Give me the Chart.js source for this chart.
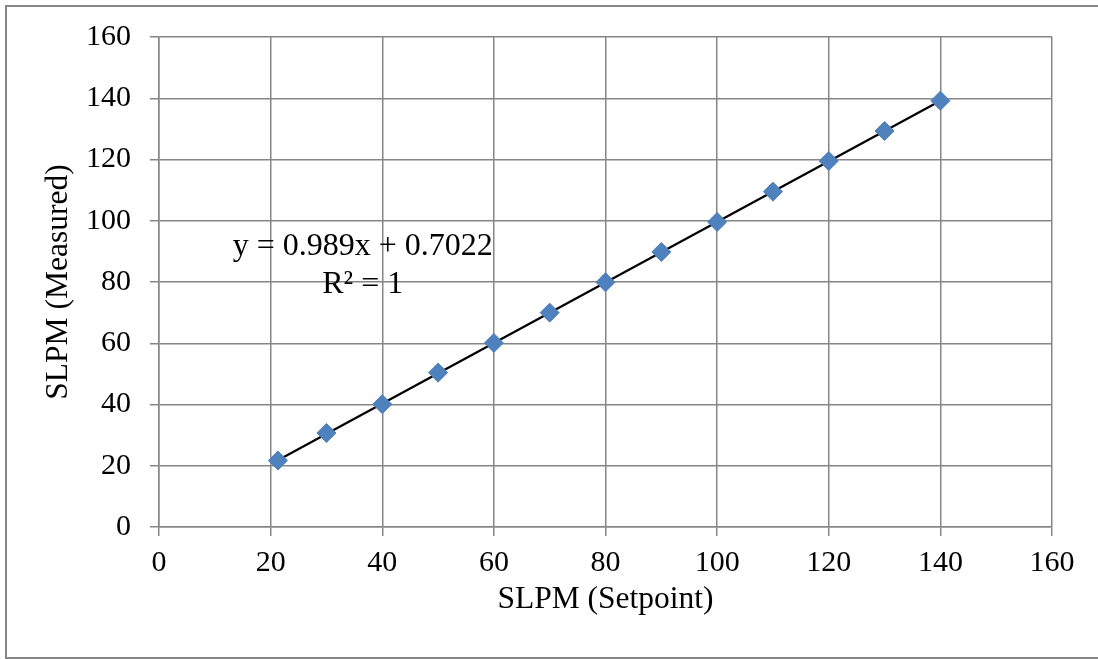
<!DOCTYPE html>
<html>
<head>
<meta charset="utf-8">
<script src="https://cdn.jsdelivr.net/npm/chart.js@4"></script>
<style>
  html, body { margin: 0; padding: 0; background: #fff; }
  #wrap { position: absolute; left: 0; top: 0; width: 1098px; height: 659px; }
</style>
</head>
<body>
<div id="wrap"><canvas id="myChart" width="1098" height="659"></canvas></div>
<script>
// data
var setpoint = [21.3, 30, 40, 50, 60, 70, 80, 90, 100, 110, 120, 130, 140];
var measured = [21.7, 30.7, 40.1, 50.4, 60.1, 70.0, 79.9, 89.8, 99.6, 109.5, 119.5, 129.3, 139.2];
var xTicks = [0, 20, 40, 60, 80, 100, 120, 140, 160];
var yTicks = [0, 20, 40, 60, 80, 100, 120, 140, 160];
var slope = 0.989, intercept = 0.7022;
var eqLines = ["y = 0.989x + 0.7022", "R\u00B2 = 1"];

var FONT = "'Liberation Serif', 'Times New Roman', serif";
var GRID = "#868686";

function main() {
  var pts = [];
  for (var i = 0; i < setpoint.length; i++) {
    pts.push({ x: setpoint[i], y: measured[i] });
  }
  var x0 = setpoint[0], x1 = setpoint[setpoint.length - 1];
  var trend = [{ x: x0, y: slope * x0 + intercept }, { x: x1, y: slope * x1 + intercept }];

  // outer frame and trendline label
  var extras = {
    id: "extras",
    beforeDraw: function (chart) {
      var ctx = chart.ctx;
      ctx.save();
      ctx.fillStyle = "#fff";
      ctx.fillRect(0, 0, chart.width, chart.height);
      ctx.strokeStyle = GRID;
      ctx.lineWidth = 2;
      ctx.strokeRect(6, 6, chart.width, chart.height - 7);
      ctx.restore();
    },
    afterDatasetsDraw: function (chart) {
      var ctx = chart.ctx;
      var sx = chart.scales.x, sy = chart.scales.y;
      var cx = sx.getPixelForValue(36.5);
      var by = sy.getPixelForValue(88.9);
      ctx.save();
      ctx.font = "32px " + FONT;
      ctx.fillStyle = "#000";
      ctx.textAlign = "center";
      ctx.textBaseline = "alphabetic";
      ctx.fillText(eqLines[0], cx, by);
      ctx.fillText(eqLines[1], cx, by + 38);
      ctx.restore();
    }
  };

  var ctx = document.getElementById("myChart").getContext("2d");
  var myChart = new Chart(ctx, {
    type: "scatter",
    data: {
      datasets: [
        {
          label: "trend",
          data: trend,
          showLine: true,
          borderColor: "#000",
          borderWidth: 2.2,
          pointRadius: 0,
          order: 2
        },
        {
          label: "SLPM",
          data: pts,
          pointStyle: "rectRot",
          pointRadius: 9.5,
          pointBackgroundColor: "#4F81BD",
          pointBorderColor: "#4A7EBB",
          pointBorderWidth: 1,
          order: 1
        }
      ]
    },
    plugins: [extras],
    options: {
      responsive: false,
      animation: false,
      layout: { padding: { left: 0, top: 36, right: 46, bottom: 0 } },
      plugins: { legend: { display: false }, tooltip: { enabled: false } },
      scales: {
        x: {
          type: "linear",
          min: 0, max: 160,
          afterBuildTicks: function (s) { s.ticks = xTicks.map(function (v) { return { value: v }; }); },
          afterFit: function (s) { s.height = 132; },
          grid: { color: GRID, lineWidth: 1.5, tickLength: 9, tickColor: GRID },
          border: { color: GRID, width: 1.5 },
          ticks: { color: "#000", padding: 9, font: { family: FONT, size: 30 }, maxRotation: 0 },
          title: { display: true, text: "SLPM (Setpoint)", color: "#000", font: { family: FONT, size: 31.5 }, padding: { bottom: 40 } }
        },
        y: {
          type: "linear",
          min: 0, max: 160,
          afterBuildTicks: function (s) { s.ticks = yTicks.map(function (v) { return { value: v }; }); },
          afterFit: function (s) { s.width = 159; },
          grid: { color: GRID, lineWidth: 1.5, tickLength: 9, tickColor: GRID },
          border: { color: GRID, width: 1.5 },
          ticks: { color: "#000", padding: 19, font: { family: FONT, size: 30 } },
          title: { display: true, text: "SLPM (Measured)", color: "#000", font: { family: FONT, size: 31.5 }, padding: { top: 40 } }
        }
      }
    }
  });
}

main();
</script>
</body>
</html>
